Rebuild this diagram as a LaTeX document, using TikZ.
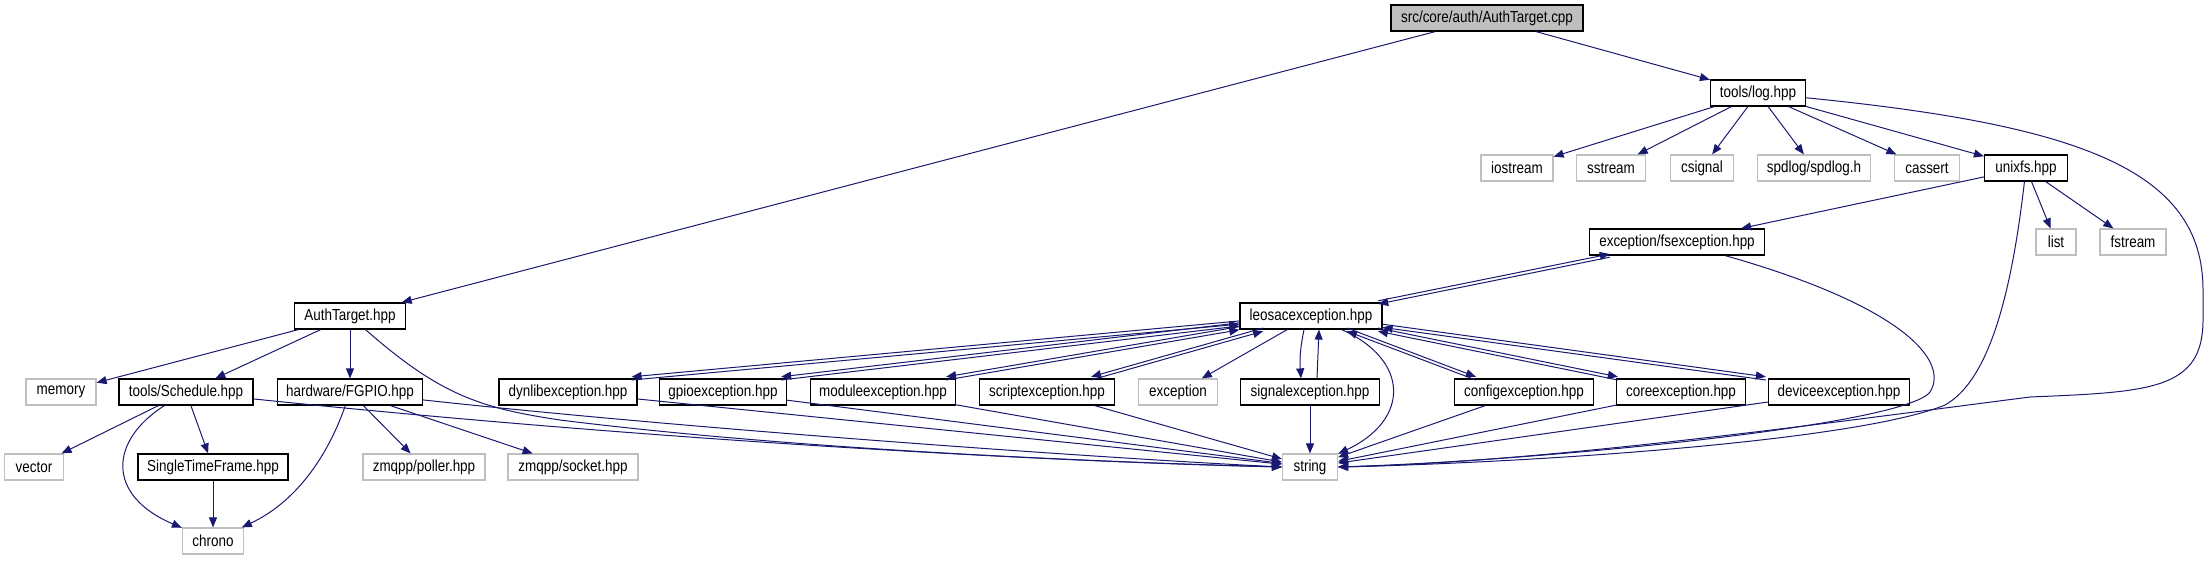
\documentclass[tikz,border=0pt]{standalone}
\usepackage{fontspec}
\setmainfont{Liberation Sans}
\newfontfamily\dotfont{Liberation Sans}[FakeStretch=0.84]
\usetikzlibrary{arrows.meta}
\definecolor{EdgeBlue}{HTML}{191970}
\definecolor{ExtGray}{HTML}{BFBFBF}

\begin{document}
\begin{tikzpicture}[x=1pt, y=-1pt,
        hdr/.style={draw=black, line width=1.2pt, minimum height=26pt, inner sep=0pt,
                    font=\dotfont\fontsize{16}{19}\selectfont},
        ext/.style={hdr, draw=ExtGray},
        edge/.style={draw=EdgeBlue, line width=1pt, -{Triangle[length=10pt,width=8pt]}},
        upln/.style={edge, transform canvas={yshift=-1.6pt}},
        dnln/.style={edge, transform canvas={yshift=1.6pt}}]

        \useasboundingbox (0,0) rectangle (2209,560);

        \node[hdr, fill=ExtGray, minimum width=192pt] (cpp) at (1487,18) {src/core/auth/AuthTarget.cpp};
        \node[hdr, minimum width=95pt] (log) at (1758,93) {tools/log.hpp};

        \node[ext, minimum width=72pt]  (iostream) at (1517,168) {iostream};
        \node[ext, minimum width=69pt]  (sstream)  at (1611,168) {sstream};
        \node[ext, minimum width=63pt]  (csignal)  at (1702,168) {csignal};
        \node[ext, minimum width=113pt] (spdlog)   at (1814,168) {spdlog/spdlog.h};
        \node[ext, minimum width=65pt]  (cassert)  at (1927,168) {cassert};
        \node[hdr, minimum width=83pt]  (unixfs)   at (2026,168) {unixfs.hpp};

        \node[hdr, minimum width=175pt] (fsexc)   at (1677,242) {exception/fsexception.hpp};
        \node[ext, minimum width=40pt]  (list)    at (2056,242) {list};
        \node[ext, minimum width=66pt]  (fstream) at (2133,242) {fstream};

        \node[hdr, minimum width=111pt] (athpp)  at (350,316)  {AuthTarget.hpp};
        \node[hdr, minimum width=142pt] (leosac) at (1311,316) {leosacexception.hpp};

        \node[ext, minimum width=70pt]  (memory)    at (61,392)   {memory};
        \node[hdr, minimum width=134pt] (sched)     at (186,392)  {tools/Schedule.hpp};
        \node[hdr, minimum width=145pt] (fgpio)     at (350,392)  {hardware/FGPIO.hpp};
        \node[hdr, minimum width=138pt] (dynlib)    at (568,392)  {dynlibexception.hpp};
        \node[hdr, minimum width=127pt] (gpio)      at (723,392)  {gpioexception.hpp};
        \node[hdr, minimum width=145pt] (module)    at (883,392)  {moduleexception.hpp};
        \node[hdr, minimum width=135pt] (script)    at (1047,392) {scriptexception.hpp};
        \node[ext, minimum width=79pt]  (exception) at (1178,392) {exception};
        \node[hdr, minimum width=139pt] (signal)    at (1310,392) {signalexception.hpp};
        \node[hdr, minimum width=139pt] (config)    at (1524,392) {configexception.hpp};
        \node[hdr, minimum width=129pt] (core)      at (1681,392) {coreexception.hpp};
        \node[hdr, minimum width=141pt] (device)    at (1839,392) {deviceexception.hpp};

        \node[ext, minimum width=59pt]  (vector) at (34,467)   {vector};
        \node[hdr, minimum width=150pt] (stf)    at (213,467)  {SingleTimeFrame.hpp};
        \node[ext, minimum width=122pt] (poller) at (424,467)  {zmqpp/poller.hpp};
        \node[ext, minimum width=130pt] (socket) at (573,467)  {zmqpp/socket.hpp};
        \node[ext, minimum width=55pt]  (string) at (1310,467) {string};

        \node[ext, minimum width=61pt] (chrono) at (213,541) {chrono};

        % top file
        \draw[edge] (cpp) -- (athpp);
        \draw[edge] (cpp) -- (log);

        % tools/log.hpp
        \draw[edge] (log) -- (iostream);
        \draw[edge] (log) -- (sstream);
        \draw[edge] (log) -- (csignal);
        \draw[edge] (log) -- (spdlog);
        \draw[edge] (log) -- (cassert);
        \draw[edge] (log) -- (unixfs);
        \draw[edge] (log) .. controls (2080,125) and (2203,170) .. (2203,290) -- (2203,320)
            .. controls (2203,390) and (2150,392) .. (2030,397)
            .. controls (1850,420) and (1550,462) .. (string.east);

        % unixfs.hpp
        \draw[edge] (unixfs) -- (fsexc);
        \draw[edge] (unixfs) -- (list);
        \draw[edge] (unixfs) -- (fstream);
        \draw[edge] (unixfs) .. controls (2012,290) and (1990,380) .. (1945,405)
            .. controls (1860,440) and (1550,462) .. (string.east);

        % fsexception.hpp
        \draw[upln] (fsexc) -- (leosac);
        \draw[dnln] (leosac) -- (fsexc);
        \draw[edge] (fsexc) .. controls (1900,305) and (1950,360) .. (1930,392)
            .. controls (1905,425) and (1550,460) .. (string.east);

        % AuthTarget.hpp
        \draw[edge] (athpp) -- (memory);
        \draw[edge] (athpp) -- (sched);
        \draw[edge] (athpp) -- (fgpio);
        \draw[edge] (athpp) .. controls (440,395) and (480,408) .. (560,420)
            .. controls (800,450) and (1100,462) .. (string.west);

        % tools/Schedule.hpp
        \draw[edge] (sched) -- (vector);
        \draw[edge] (sched) -- (stf);
        \draw[edge] (sched) .. controls (110,440) and (105,495) .. (chrono);
        \draw[edge] (sched) .. controls (700,445) and (1100,463) .. (string.west);
        \draw[edge] (stf) -- (chrono);

        % hardware/FGPIO.hpp
        \draw[edge] (fgpio) .. controls (330,450) and (300,500) .. (chrono);
        \draw[edge] (fgpio) -- (poller);
        \draw[edge] (fgpio) -- (socket);
        \draw[edge] (fgpio) .. controls (700,430) and (1100,458) .. (string.west);

        % leosacexception.hpp and its cycle
        \draw[upln] ([xshift=-6pt]dynlib.north east) -- (leosac);
        \draw[dnln] (leosac) -- ([xshift=-6pt]dynlib.north east);
        \draw[upln] ([xshift=-6pt]gpio.north east) -- (leosac);
        \draw[dnln] (leosac) -- ([xshift=-6pt]gpio.north east);
        \draw[upln] ([xshift=-10pt]module.north east) -- (leosac);
        \draw[dnln] (leosac) -- ([xshift=-10pt]module.north east);
        \draw[upln] ([xshift=-24pt]script.north east) -- (leosac);
        \draw[dnln] (leosac) -- ([xshift=-24pt]script.north east);
        \draw[upln] ([xshift=22pt]config.north west) -- (leosac);
        \draw[dnln] (leosac) -- ([xshift=22pt]config.north west);
        \draw[upln] ([xshift=2pt]core.north west) -- (leosac);
        \draw[dnln] (leosac) -- ([xshift=2pt]core.north west);
        \draw[upln] ([xshift=-2pt]device.north west) -- (leosac);
        \draw[dnln] (leosac) -- ([xshift=-2pt]device.north west);
        \draw[edge] ([xshift=-7pt]leosac.south) to[bend right=8] ([xshift=-9pt]signal.north);
        \draw[edge] ([xshift=7pt]signal.north) -- ([xshift=8pt]leosac.south);
        \draw[edge] (leosac) -- (exception);
        \draw[edge] (leosac) .. controls (1410,360) and (1410,420) .. (string);

        % exceptions to string
        \draw[edge] (dynlib) -- (string);
        \draw[edge] (gpio)   -- (string);
        \draw[edge] (module) -- (string);
        \draw[edge] (script) -- (string);
        \draw[edge] (signal) -- (string);
        \draw[edge] (config) -- (string);
        \draw[edge] (core)   -- (string);
        \draw[edge] (device) -- (string);
      \end{tikzpicture}
\end{document}
